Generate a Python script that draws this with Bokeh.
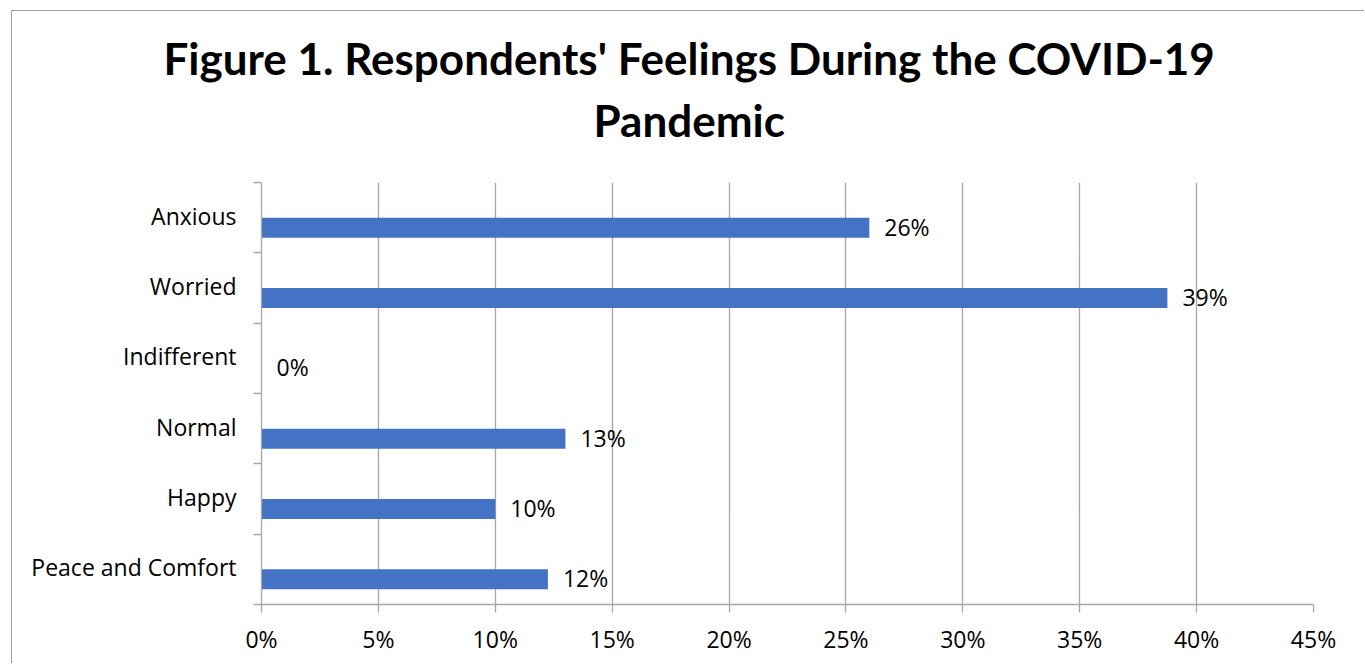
from bokeh.plotting import figure
from bokeh.models import (Range1d, LinearAxis, FixedTicker, Title,
                          PrintfTickFormatter, ColumnDataSource)
from bokeh.core.properties import value
from bokeh.embed import file_html
from bokeh.resources import INLINE

# survey results: share of respondents per feeling (percent)
feelings = ["Anxious", "Worried", "Indifferent", "Normal", "Happy", "Peace and Comfort"]
shares = [26.0, 38.75, 0.0, 13.0, 10.0, 12.25]
x_ticks = [0, 5, 10, 15, 20, 25, 30, 35, 40, 45]
title_lines = ["Figure 1. Respondents' Feelings During the COVID-19", "Pandemic"]

FONT = "Open Sans"
TITLE_FONT = "Lato"
GRID = "#a6a6a6"
EDGE = "#a0a0a0"
BAR = "#4472C4"

# chart box starts 11px from the left and 10px from the top of the page;
# its 1px border sits outside the drawing area
OX, OY = 11, 10
CX, CY = OX + 1, OY + 1
W, H = 1365 - CX, 664 - CY
LEFT, RIGHT, TOP, BOTTOM = 261 - CX, 1313 - CX, 182 - CY, 604 - CY

n = len(feelings)
order = feelings[::-1]                      # first listed feeling at the top
centers = [order.index(f) + 0.5 for f in feelings]
shift = -0.142                              # bars sit in the lower half of a band
src = ColumnDataSource(dict(
    feeling=feelings,
    share=shares,
    ypos=[c + shift for c in centers],
    label=[f"{round(v)}%" for v in shares],
))

p = figure(width=W, height=H, output_backend="svg", toolbar_location=None,
           y_range=Range1d(0, n), x_range=Range1d(0, 45),
           x_axis_location=None, y_axis_location=None,
           min_border_left=LEFT, min_border_right=W - RIGHT,
           min_border_top=TOP, min_border_bottom=H - BOTTOM)
p.outline_line_color = None
p.background_fill_color = "white"
p.border_fill_color = "white"
p.styles = {"margin-left": f"{OX}px", "margin-top": f"{OY}px",
            "border-top": f"1px solid {EDGE}", "border-left": f"1px solid {EDGE}"}

# vertical gridlines
p.xgrid.ticker = FixedTicker(ticks=x_ticks)
p.xgrid.grid_line_color = GRID
p.xgrid.grid_line_width = 1.3
p.ygrid.grid_line_color = None

# bottom percentage axis
xaxis = LinearAxis(ticker=FixedTicker(ticks=x_ticks),
                   formatter=PrintfTickFormatter(format="%d%%"))
xaxis.axis_line_color = GRID
xaxis.axis_line_width = 1.3
xaxis.major_tick_line_color = GRID
xaxis.major_tick_line_width = 1.3
xaxis.major_tick_out = 8
xaxis.major_tick_in = 0
xaxis.minor_tick_line_color = None
xaxis.major_label_standoff = 10
xaxis.major_label_text_font = FONT
xaxis.major_label_text_font_size = "23px"
xaxis.major_label_text_color = "black"
p.add_layout(xaxis, "below")

# left category axis: names (slightly raised) at band centres, ticks at band edges
name_pos = [c + 0.03 for c in centers]
yaxis = LinearAxis(ticker=FixedTicker(ticks=sorted(name_pos),
                                      minor_ticks=list(range(n + 1))),
                   major_label_overrides={c: f for c, f in zip(name_pos, feelings)})
yaxis.axis_line_color = GRID
yaxis.axis_line_width = 1.3
yaxis.major_tick_line_color = None
yaxis.major_tick_out = 0
yaxis.major_tick_in = 0
yaxis.minor_tick_line_color = GRID
yaxis.minor_tick_line_width = 1.3
yaxis.minor_tick_out = 8
yaxis.minor_tick_in = 0
yaxis.major_label_standoff = 17
yaxis.major_label_text_font = FONT
yaxis.major_label_text_font_size = "23px"
yaxis.major_label_text_color = "black"
p.add_layout(yaxis, "left")

p.hbar(y="ypos", left=0, right="share", height=0.284, source=src,
       fill_color=BAR, line_color=None)

# value labels to the right of each bar
p.text(x="share", y="ypos", text="label", source=src, x_offset=15, y_offset=-1,
       text_baseline="middle", text_align="left",
       text_font=value(FONT), text_font_size="23px", text_color="black")

# gap between the title block and the plot frame
p.add_layout(Title(text=" ", standoff=30, text_font_size="1px"), "above")

# two-line bold title; the line nearest the frame is added first
for txt, off in zip(title_lines[::-1], [332, -98]):
    p.add_layout(Title(text=txt, align="left", offset=off, standoff=8,
                       text_font=TITLE_FONT, text_font_style="bold",
                       text_font_size="44px", text_color="black"), "above")

open("out.html", "w").write(file_html(p, INLINE))
